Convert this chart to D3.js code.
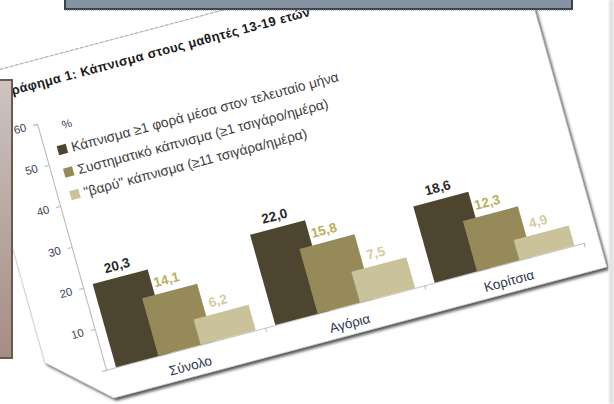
<!DOCTYPE html>
<html>
<head>
<meta charset="utf-8">
<script src="https://cdn.jsdelivr.net/npm/d3@7"></script>
<style>
  body { margin: 0; background: #fff; }
  svg { display: block; font-family: "Liberation Sans", "Open Sans", sans-serif; }
</style>
</head>
<body>
<div id="chart"></div>
<script>
// chart values
const categories = ['Σύνολο', 'Αγόρια', 'Κορίτσια'];
const seriesNames = [
  'Κάπνισμα ≥1 φορά μέσα στον τελευταίο μήνα',
  'Συστηματικό κάπνισμα (≥1 τσιγάρο/ημέρα)',
  '"βαρύ" κάπνισμα (≥11 τσιγάρα/ημέρα)'
];
const monthly = [20.3, 22.0, 18.6];
const regular = [14.1, 15.8, 12.3];
const heavy = [6.2, 7.5, 4.9];
const yTicks = [10, 20, 30, 40, 50, 60];
const title = 'Γράφημα 1: Κάπνισμα στους μαθητές 13-19 ετών';

const colors = ['#4d452f', '#968b58', '#c9c29b'];
const labelColors = ['#2a2a2a', '#bcae5c', '#d4cca4'];

const svgWidth = 614;
const svgHeight = 404;

// flat plot size, then skewed onto the photographed sheet
const width = 478;
const height = 246;

const svg = d3.select('#chart').append('svg')
  .attr('width', svgWidth)
  .attr('height', svgHeight);

const defs = svg.append('defs');
defs.append('filter')
  .attr('id', 'blur')
  .attr('x', '-10%').attr('y', '-10%').attr('width', '120%').attr('height', '120%')
  .append('feGaussianBlur')
  .attr('stdDeviation', 1.4);

const grad = defs.append('linearGradient')
  .attr('id', 'side')
  .attr('x1', 0).attr('y1', 0).attr('x2', 0).attr('y2', 1);
grad.append('stop').attr('offset', '0%').attr('stop-color', '#ccc4c0');
grad.append('stop').attr('offset', '100%').attr('stop-color', '#a58d85');

const sheet = svg.append('g')
  .attr('transform', 'matrix(1,-0.2657,0.2805,1,37,124)');

// the paper
const paper = [[-60, -60], [493, -60], [493, 274], [0, 274], [-55, 224], [-55, -60]];
sheet.append('polygon')
  .attr('points', paper.map((p) => [p[0] + 1.5, p[1] + 3].join(',')).join(' '))
  .attr('fill', '#505050')
  .attr('filter', 'url(#blur)');
sheet.append('polygon')
  .attr('points', paper.map((p) => p.join(',')).join(' '))
  .attr('fill', '#fff')
  .attr('stroke', '#d0d0d0')
  .attr('stroke-width', 0.8);
sheet.append('line')
  .attr('x1', -60).attr('x2', 493)
  .attr('y1', -60).attr('y2', -60)
  .attr('stroke', '#a8a8a8')
  .attr('stroke-width', 0.8)
  .attr('stroke-dasharray', '3,2');

sheet.append('text')
  .attr('x', -23)
  .attr('y', -33)
  .attr('font-size', 12.5)
  .attr('font-weight', 'bold')
  .attr('fill', '#1c1c1c')
  .attr('textLength', 306)
  .attr('lengthAdjust', 'spacing')
  .text(title);

const x0 = d3.scaleBand()
  .domain(categories)
  .range([0, width]);

const x1 = d3.scaleBand()
  .domain(d3.range(seriesNames.length))
  .range([10, 137]);

const barWidth = x1.step() * 1.3;

const y = d3.scaleLinear()
  .domain([0, 60])
  .range([height, 0]);

const fmt = d3.formatLocale({ decimal: ',', thousands: '.', grouping: [3], currency: ['', '€'] }).format('.1f');

// y axis
const yAxis = sheet.append('g')
  .attr('class', 'y axis')
  .call(d3.axisLeft(y).tickValues(yTicks).tickSize(4).tickSizeOuter(4).tickPadding(7));
yAxis.select('.domain').attr('stroke', '#b8b8b8');
yAxis.selectAll('.tick line').attr('stroke', '#b8b8b8');
yAxis.selectAll('.tick text')
  .attr('font-size', 11)
  .attr('font-family', '"Liberation Sans", sans-serif')
  .attr('fill', '#3c4459');

sheet.append('text')
  .attr('x', 23)
  .attr('y', 11)
  .attr('font-size', 11)
  .attr('fill', '#3c4459')
  .text('%');

// x axis
const xAxis = sheet.append('g')
  .attr('class', 'x axis')
  .attr('transform', `translate(0, ${height})`)
  .call(d3.axisBottom(x0).tickSize(0).tickPadding(12));
xAxis.select('.domain').attr('stroke', '#c4c4c4');
xAxis.selectAll('.tick text')
  .attr('font-size', 13)
  .attr('font-family', '"Liberation Sans", sans-serif')
  .attr('fill', '#2e3650');
xAxis.selectAll('.sep')
  .data(categories.slice(1).concat([null]))
  .enter().append('line')
  .attr('x1', (d) => (d === null ? width : x0(d)))
  .attr('x2', (d) => (d === null ? width : x0(d)))
  .attr('y1', 0)
  .attr('y2', 4)
  .attr('stroke', '#b8b8b8');

// bars
const table = [monthly, regular, heavy];
table.forEach((values, s) => {
  sheet.append('g')
    .selectAll('rect')
    .data(values)
    .enter().append('rect')
    .attr('x', (d, i) => x0(categories[i]) + x1(s))
    .attr('y', (d) => y(d))
    .attr('width', barWidth)
    .attr('height', (d) => y(0) - y(d))
    .attr('fill', colors[s]);
});

table.forEach((values, s) => {
  sheet.append('g')
    .selectAll('text')
    .data(values)
    .enter().append('text')
    .attr('x', (d, i) => x0(categories[i]) + x1(s) + barWidth / 2)
    .attr('y', (d) => y(d) - 7)
    .attr('text-anchor', 'middle')
    .attr('font-size', 13)
    .attr('font-weight', 'bold')
    .attr('fill', labelColors[s])
    .text((d) => fmt(d));
});

// legend
const legend = sheet.append('g')
  .attr('transform', 'translate(17, 30)');
const row = legend.selectAll('g')
  .data(seriesNames)
  .enter().append('g')
  .attr('transform', (d, i) => `translate(0, ${i * 22.5})`);
row.append('rect')
  .attr('x', -4.5).attr('y', -4.5)
  .attr('width', 9).attr('height', 9)
  .attr('fill', (d, i) => colors[i]);
row.append('text')
  .attr('x', 9)
  .attr('dy', '0.35em')
  .attr('font-size', 13.3)
  .attr('fill', '#404040')
  .text((d) => d);

// frames around the photographed sheet
svg.append('rect')
  .attr('x', -2).attr('y', 80)
  .attr('width', 14).attr('height', 278)
  .attr('fill', 'url(#side)')
  .attr('stroke', '#6d5850')
  .attr('stroke-width', 2);

svg.append('rect')
  .attr('x', 65).attr('y', -2)
  .attr('width', 507).attr('height', 11)
  .attr('fill', '#8693a2')
  .attr('stroke', '#3b4350')
  .attr('stroke-width', 2);
svg.append('line')
  .attr('x1', 65).attr('x2', 572)
  .attr('y1', 10).attr('y2', 10)
  .attr('stroke', '#777')
  .attr('stroke-dasharray', '1,1');

svg.append('rect')
  .attr('x', 609).attr('y', 0)
  .attr('width', 5).attr('height', svgHeight)
  .attr('fill', '#e3e3e3')
  .attr('stroke', '#f2f2f2');
</script>
</body>
</html>
